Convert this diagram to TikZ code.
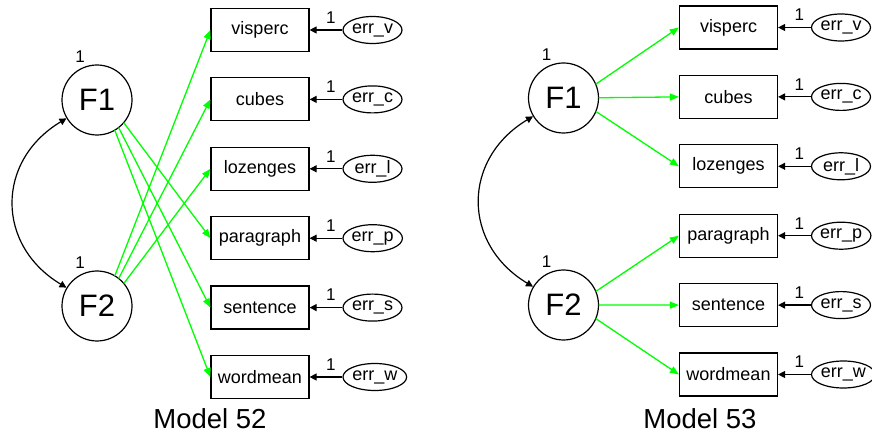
\documentclass[tikz,border=0pt]{standalone}
\usepackage{fontspec}
\setmainfont{Liberation Sans}
\usetikzlibrary{arrows.meta,positioning,calc,shapes.geometric}

\begin{document}
\begin{tikzpicture}[
    x=1pt, y=1pt,
    % --- Node styles ---
    latent/.style={draw, circle, line width=1.2pt, minimum size=70pt, inner sep=0pt, font=\fontsize{31}{33}\selectfont},
    observed/.style={draw, rectangle, line width=1.2pt, minimum width=98pt, minimum height=43pt, inner sep=0pt, font=\fontsize{18}{20}\selectfont},
    errnode/.style={draw, ellipse, line width=1.2pt, minimum width=59pt, minimum height=27pt, inner sep=0pt, font=\fontsize{18}{20}\selectfont},
    one/.style={font=\fontsize{17}{19}\selectfont, inner sep=1pt},
    caption/.style={font=\fontsize{27.5}{30}\selectfont},
    % --- Path styles ---
    load/.style={draw=green, line width=1.3pt, -{Triangle[length=9pt, width=7pt]}},
    fixed/.style={draw, line width=1.2pt, -{Triangle[length=7pt, width=7pt]}},
    cov/.style={draw, line width=1.2pt, {Triangle[length=7pt, width=7pt]}-{Triangle[length=7pt, width=7pt]}},
    factorone/.style={label={[one, xshift=-17pt, label distance=0.5pt]above:1}},
    % --- Layout ---
    node distance=25.2pt and 32.8pt,
]
\useasboundingbox (0,0) rectangle (872,439);

% === Model 52 ===
\node[latent, factorone] (aF1) at (97,339) {F1};
\node[latent, factorone] (aF2) at (97,133) {F2};
\node[observed] (avisperc) at (260,409) {visperc};
\node[observed, below=of avisperc] (acubes) {cubes};
\node[observed, below=of acubes] (alozenges) {lozenges};
\node[observed, below=of alozenges] (aparagraph) {paragraph};
\node[observed, below=of aparagraph] (asentence) {sentence};
\node[observed, below=of asentence] (awordmean) {wordmean};
\node[errnode, right=of avisperc] (aerrv) {err\_v};
\node[errnode, right=of acubes] (aerrc) {err\_c};
\node[errnode, right=of alozenges] (aerrl) {err\_l};
\node[errnode, right=of aparagraph] (aerrp) {err\_p};
\node[errnode, right=of asentence] (aerrs) {err\_s};
\node[errnode, right=of awordmean] (aerrw) {err\_w};
\node[caption, anchor=base] (acap) at (210,11) {Model 52};

\draw[cov] (aF1) to[out=211, in=149, looseness=1.25] (aF2);
\draw[load] ($(aF2)!35pt!(avisperc)$) -- (avisperc.west);
\draw[load] ($(aF2)!35pt!(acubes)$) -- (acubes.west);
\draw[load] ($(aF2)!35pt!(alozenges)$) -- (alozenges.west);
\draw[load] ($(aF1)!35pt!(aparagraph)$) -- (aparagraph.west);
\draw[load] ($(aF1)!35pt!(asentence)$) -- (asentence.west);
\draw[load] ($(aF1)!35pt!(awordmean)$) -- (awordmean.west);
\draw[fixed] (aerrv) -- node[one, pos=0.35, above=5pt] {1} (avisperc);
\draw[fixed] (aerrc) -- node[one, pos=0.35, above=5pt] {1} (acubes);
\draw[fixed] (aerrl) -- node[one, pos=0.35, above=5pt] {1} (alozenges);
\draw[fixed] (aerrp) -- node[one, pos=0.35, above=5pt] {1} (aparagraph);
\draw[fixed] (aerrs) -- node[one, pos=0.35, above=5pt] {1} (asentence);
\draw[fixed] (aerrw) -- node[one, pos=0.35, above=5pt] {1} (awordmean);

% === Model 53 ===
\node[latent, factorone] (bF1) at (563.5,341) {F1};
\node[latent, factorone] (bF2) at (563.5,134) {F2};
\node[observed] (bvisperc) at (728.5,411.5) {visperc};
\node[observed, below=of bvisperc] (bcubes) {cubes};
\node[observed, below=of bcubes] (blozenges) {lozenges};
\node[observed, below=of blozenges] (bparagraph) {paragraph};
\node[observed, below=of bparagraph] (bsentence) {sentence};
\node[observed, below=of bsentence] (bwordmean) {wordmean};
\node[errnode, right=of bvisperc] (berrv) {err\_v};
\node[errnode, right=of bcubes] (berrc) {err\_c};
\node[errnode, right=of blozenges] (berrl) {err\_l};
\node[errnode, right=of bparagraph] (berrp) {err\_p};
\node[errnode, right=of bsentence] (berrs) {err\_s};
\node[errnode, right=of bwordmean] (berrw) {err\_w};
\node[caption, anchor=base] (bcap) at (700,11) {Model 53};

\draw[cov] (bF1) to[out=211, in=149, looseness=1.25] (bF2);
\draw[load] ($(bF1)!35pt!(bvisperc)$) -- (bvisperc.west);
\draw[load] ($(bF1)!35pt!(bcubes)$) -- (bcubes.west);
\draw[load] ($(bF1)!35pt!(blozenges)$) -- (blozenges.west);
\draw[load] ($(bF2)!35pt!(bparagraph)$) -- (bparagraph.west);
\draw[load] ($(bF2)!35pt!(bsentence)$) -- (bsentence.west);
\draw[load] ($(bF2)!35pt!(bwordmean)$) -- (bwordmean.west);
\draw[fixed] (berrv) -- node[one, pos=0.35, above=5pt] {1} (bvisperc);
\draw[fixed] (berrc) -- node[one, pos=0.35, above=5pt] {1} (bcubes);
\draw[fixed] (berrl) -- node[one, pos=0.35, above=5pt] {1} (blozenges);
\draw[fixed] (berrp) -- node[one, pos=0.35, above=5pt] {1} (bparagraph);
\draw[fixed] (berrs) -- node[one, pos=0.35, above=5pt] {1} (bsentence);
\draw[fixed] (berrw) -- node[one, pos=0.35, above=5pt] {1} (bwordmean);

\end{tikzpicture}
\end{document}
